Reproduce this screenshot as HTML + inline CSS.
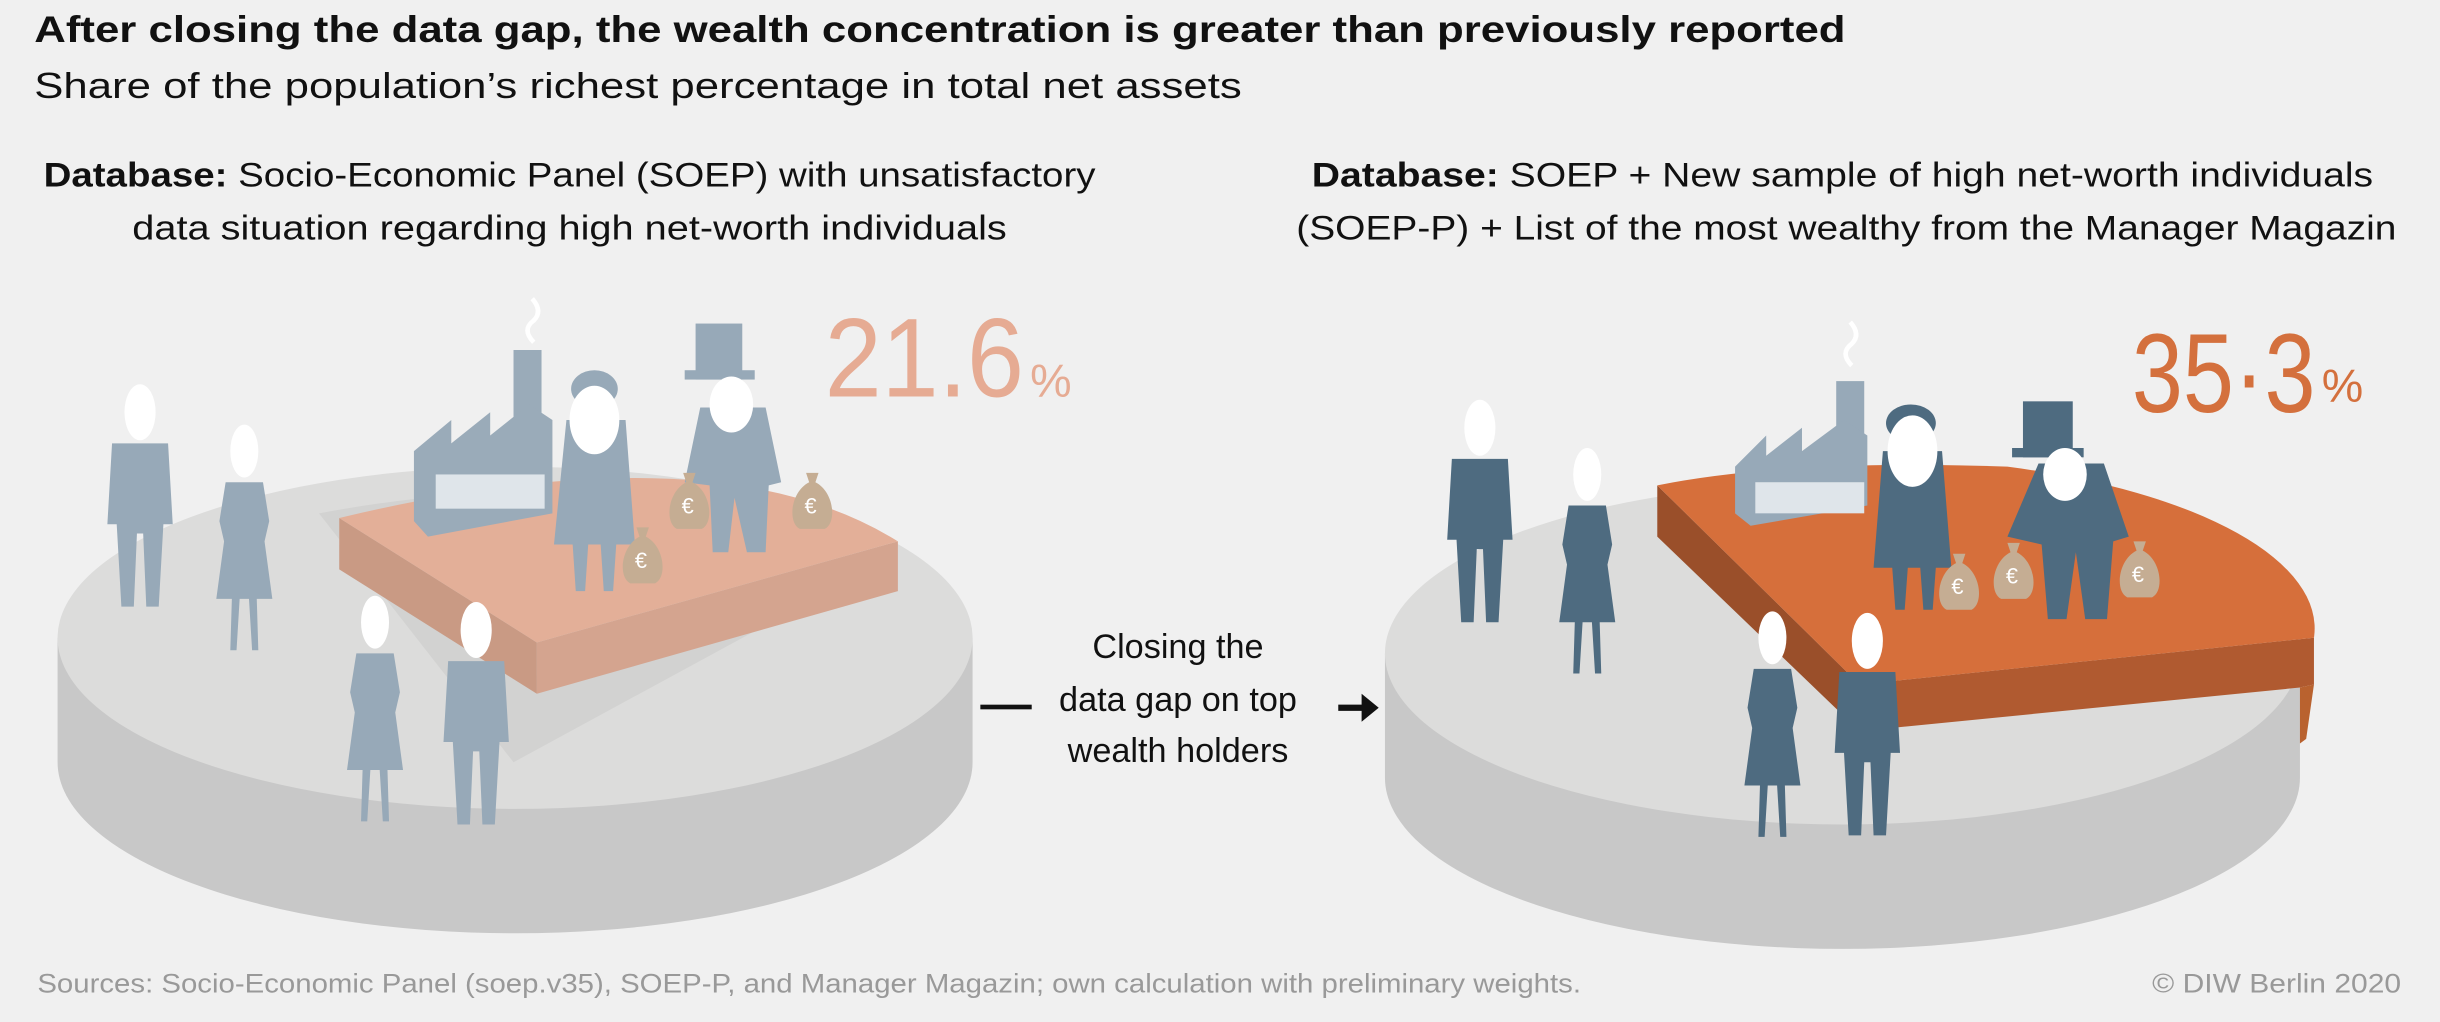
<!DOCTYPE html>
<html><head><meta charset="utf-8"><style>
html,body{margin:0;padding:0;background:#f0f0f0;}
svg{display:block}
text{font-family:"Liberation Sans",sans-serif;}
</style></head><body>
<svg width="2440" height="1022" viewBox="0 0 1568 657" preserveAspectRatio="none" xmlns="http://www.w3.org/2000/svg">
<defs>
<g id="man">
<path d="M-18,20 L18,20 L21,72 L15,72 L12,125 L4,125 L2,78 L-2,78 L-4,125 L-12,125 L-15,72 L-21,72 Z"/>
<ellipse cx="0" cy="0" rx="10" ry="18" fill="#fff"/>
</g>
<g id="woman">
<path d="M-12,20 L12,20 L16,45 L13,58 L18,95 L-18,95 L-13,58 L-16,45 Z M-8,95 L-3,95 L-5,128 L-9,128 Z M3,95 L8,95 L9,128 L5,128 Z"/>
<ellipse cx="0" cy="0" rx="9" ry="17" fill="#fff"/>
</g>
<g id="bag">
<path d="M-4,-14 L4,-14 L2,-8 C14,-2 16,18 8,22 L-8,22 C-16,18 -14,-2 -2,-8 Z" fill="#c5ad93"/>
<text x="-5" y="12" font-size="14" fill="#fff">€</text>
</g>
</defs>
<rect width="1568" height="657" fill="#f0f0f0"/>
<text x="22" y="27" font-size="24" font-weight="bold" fill="#111" textLength="1164" lengthAdjust="spacingAndGlyphs">After closing the data gap, the wealth concentration is greater than previously reported</text>
<text x="22" y="63" font-size="23" fill="#111" textLength="776" lengthAdjust="spacingAndGlyphs">Share of the population’s richest percentage in total net assets</text>

<text x="28" y="120" font-size="22" fill="#111" textLength="676" lengthAdjust="spacingAndGlyphs"><tspan font-weight="bold">Database:</tspan> Socio-Economic Panel (SOEP) with unsatisfactory</text>
<text x="85" y="154" font-size="22" fill="#111" textLength="562" lengthAdjust="spacingAndGlyphs">data situation regarding high net-worth individuals</text>
<text x="843" y="120" font-size="22" fill="#111" textLength="682" lengthAdjust="spacingAndGlyphs"><tspan font-weight="bold">Database:</tspan> SOEP + New sample of high net-worth individuals</text>
<text x="833" y="154" font-size="22" fill="#111" textLength="707" lengthAdjust="spacingAndGlyphs">(SOEP-P) + List of the most wealthy from the Manager Magazin</text>

<!-- left pie -->
<path d="M37,410 L37,490 A294,110 0 0 0 625,490 L625,410 Z" fill="#c8c8c8"/>
<ellipse cx="331" cy="410" rx="294" ry="110" fill="#dcdcdb"/>
<path d="M205,330 L330,490 L560,365 Q420,290 205,330 Z" fill="#d2d2d1"/>
<path d="M218,333 L345,413 L345,446 L218,366 Z" fill="#c99a84"/>
<path d="M345,413 L577,348 L577,380 L345,446 Z" fill="#d4a48f"/>
<path d="M218,333 L345,413 L577,348 Q460,275 218,333 Z" fill="#e3af98"/>
<g fill="#9aabb9">
<rect x="330" y="225" width="18" height="70"/>
<path d="M266,290 L290,270 L290,285 L315,265 L315,280 L340,260 L355,270 L355,330 L275,345 L266,335 Z"/>
</g>
<g fill="#dfe5ea"><rect x="280" y="305" width="70" height="22"/></g>
<path d="M343,220 q-8,-8 0,-14 q6,-6 -1,-14" stroke="#fff" stroke-width="3" fill="none"/>
<g fill="#97a9b8">
<use href="#man" x="90" y="265"/>
<use href="#woman" x="157" y="290"/>
<use href="#woman" x="241" y="400"/>
<use href="#man" x="306" y="405"/>
<path d="M364,270 L402,270 L408,350 L396,350 L394,380 L388,380 L386,350 L378,350 L376,380 L370,380 L368,350 L356,350 Z"/>
<ellipse cx="382" cy="250" rx="15" ry="12"/>
<path d="M450,262 L492,262 L502,310 L494,312 L492,355 L480,355 L472,320 L468,355 L458,355 L456,312 L440,310 Z"/>
<rect x="447" y="208" width="30" height="36"/>
<rect x="440" y="238" width="45" height="6"/>
</g>
<ellipse cx="382" cy="270" rx="16" ry="22" fill="#fff"/>
<ellipse cx="470" cy="260" rx="14" ry="18" fill="#fff"/>
<use href="#bag" x="443" y="318"/>
<use href="#bag" x="522" y="318"/>
<use href="#bag" x="413" y="353"/>
<text x="530" y="255" font-family="Liberation Serif,serif" font-size="72" fill="#e6ab93" textLength="128" lengthAdjust="spacingAndGlyphs">21.6</text>
<text x="662" y="255" font-family="Liberation Serif,serif" font-size="30" fill="#e6ab93">%</text>

<text x="757" y="423" font-size="22" fill="#111" text-anchor="middle">Closing the</text>
<text x="757" y="457" font-size="22" fill="#111" text-anchor="middle">data gap on top</text>
<text x="757" y="490" font-size="22" fill="#111" text-anchor="middle">wealth holders</text>
<rect x="630" y="453" width="33" height="3" fill="#111"/>
<path d="M860,453 L875,453 L875,446 L886,455 L875,464 L875,457 L860,457 Z" fill="#111"/>

<!-- right pie -->
<path d="M890,420 L890,500 A294,110 0 0 0 1478,500 L1478,420 Z" fill="#c8c8c8"/>
<ellipse cx="1184" cy="420" rx="294" ry="110" fill="#dcdcdb"/>
<path d="M1065,312 L1195,440 L1195,470 L1065,345 Z" fill="#9a4f2a"/>
<path d="M1195,440 L1487,410 L1487,440 L1478,442 L1195,470 Z" fill="#b05a30"/>
<path d="M1478,442 L1487,440 L1482,475 L1478,478 Z" fill="#b9622f"/>
<path d="M1065,312 L1195,440 L1487,410 A294,110 0 0 0 1290,300 Q1150,295 1065,312 Z" fill="#d66f3b"/>
<g fill="#97a9b8">
<rect x="1180" y="245" width="18" height="60"/>
<path d="M1115,300 L1135,280 L1135,293 L1158,275 L1158,290 L1185,270 L1200,280 L1200,325 L1125,338 L1115,330 Z"/>
</g>
<g fill="#dfe5ea"><rect x="1128" y="310" width="70" height="20"/></g>
<path d="M1190,235 q-8,-8 0,-14 q6,-6 -1,-14" stroke="#fff" stroke-width="3" fill="none"/>
<g fill="#4e6b80">
<use href="#man" x="951" y="275"/>
<use href="#woman" x="1020" y="305"/>
<use href="#woman" x="1139" y="410"/>
<use href="#man" x="1200" y="412"/>
<path d="M1210,290 L1248,290 L1254,365 L1244,365 L1242,392 L1236,392 L1234,365 L1226,365 L1224,392 L1218,392 L1216,365 L1204,365 Z"/>
<ellipse cx="1228" cy="272" rx="16" ry="12"/>
<path d="M1310,298 L1352,298 L1368,345 L1358,348 L1354,398 L1340,398 L1334,355 L1328,398 L1316,398 L1312,350 L1290,345 Z"/>
<rect x="1300" y="258" width="32" height="36"/>
<rect x="1293" y="288" width="46" height="6"/>
</g>
<ellipse cx="1229" cy="290" rx="16" ry="23" fill="#fff"/>
<ellipse cx="1327" cy="305" rx="14" ry="17" fill="#fff"/>
<use href="#bag" x="1259" y="370"/>
<use href="#bag" x="1294" y="363"/>
<use href="#bag" x="1375" y="362"/>
<text x="1370" y="265" font-family="Liberation Serif,serif" font-size="72" fill="#d4703d" textLength="118" lengthAdjust="spacingAndGlyphs">35·3</text>
<text x="1492" y="258" font-family="Liberation Serif,serif" font-size="30" fill="#d4703d">%</text>

<text x="24" y="638" font-size="17" fill="#999" textLength="992" lengthAdjust="spacingAndGlyphs">Sources: Socio-Economic Panel (soep.v35), SOEP-P, and Manager Magazin; own calculation with preliminary weights.</text>
<text x="1543" y="638" font-size="17" fill="#999" text-anchor="end" textLength="160" lengthAdjust="spacingAndGlyphs">© DIW Berlin 2020</text>
</svg>
</body></html>
